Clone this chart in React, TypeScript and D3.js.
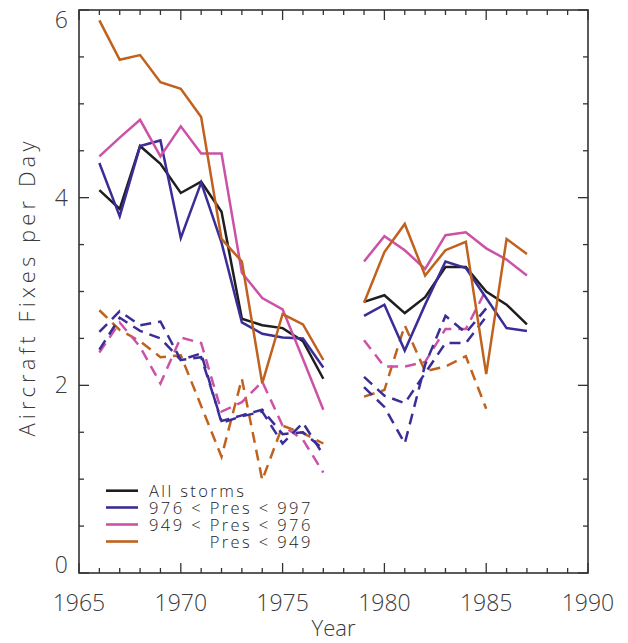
import React from "react";
import * as d3 from "d3";

// Years covered by each observing period
const earlyYears = [1966, 1967, 1968, 1969, 1970, 1971, 1972, 1973, 1974, 1975, 1976, 1977];
const lateYears = [1979, 1980, 1981, 1982, 1983, 1984, 1985, 1986, 1987];
const lateDashYears = [1979, 1980, 1981, 1982, 1983, 1984, 1985];

// Solid curves: aircraft fixes per day by storm class
const allEarly = [4.08, 3.88, 4.55, 4.36, 4.05, 4.17, 3.85, 2.71, 2.64, 2.61, 2.47, 2.07];
const allLate = [2.89, 2.96, 2.77, 2.94, 3.26, 3.26, 3.0, 2.86, 2.65];
const weakEarly = [4.37, 3.8, 4.55, 4.61, 3.57, 4.16, 3.52, 2.67, 2.55, 2.51, 2.5, 2.19];
const weakLate = [2.74, 2.86, 2.37, 2.86, 3.32, 3.25, 2.93, 2.61, 2.58];
const midEarly = [4.44, 4.64, 4.83, 4.44, 4.76, 4.47, 4.47, 3.2, 2.93, 2.81, 2.28, 1.74];
const midLate = [3.32, 3.59, 3.44, 3.24, 3.6, 3.63, 3.46, 3.34, 3.17];
const strongEarly = [5.89, 5.47, 5.52, 5.23, 5.16, 4.86, 3.56, 3.32, 2.02, 2.76, 2.65, 2.27];
const strongLate = [2.88, 3.42, 3.72, 3.17, 3.44, 3.53, 2.12, 3.56, 3.4];

// Dashed curves
const weakDashEarly = [2.57, 2.79, 2.64, 2.68, 2.27, 2.34, 1.6, 1.67, 1.72, 1.38, 1.6, 1.26];
const weakDashBEarly = [2.38, 2.72, 2.58, 2.5, 2.27, 2.3, 1.62, 1.68, 1.74, 1.48, 1.5, 1.32];
const weakDashLate = [2.09, 1.89, 1.81, 2.13, 2.45, 2.45, 2.73];
const weakDashBLate = [1.98, 1.77, 1.38, 2.22, 2.74, 2.56, 2.82];
const midDashEarly = [2.35, 2.67, 2.41, 2.02, 2.51, 2.45, 1.72, 1.82, 2.04, 1.57, 1.42, 1.07];
const midDashLate = [2.48, 2.2, 2.2, 2.25, 2.6, 2.6, 3.02];
const strongDashEarly = [2.8, 2.59, 2.47, 2.3, 2.32, 1.78, 1.24, 2.07, 0.99, 1.57, 1.49, 1.38];
const strongDashLate = [1.88, 1.95, 2.64, 2.15, 2.2, 2.31, 1.75];

// Axis ticks and legend
const xMajorTicks = [1965, 1970, 1975, 1980, 1985, 1990];
const yMajorTicks = [0, 2, 4, 6];
const legendLabels = ["All storms", "976 < Pres < 997", "949 < Pres < 976", "Pres < 949"];

const COLORS = {
  all: "#1e1e1e",
  weak: "#3a2e96",
  mid: "#cc52a8",
  strong: "#c0621e",
};

const W = 628;
const H = 643;
const left = 79;
const right = 588;
const top = 10;
const bottom = 573;

export default function App() {
  const x = d3.scaleLinear().domain([1965, 1990]).range([left, right]);
  const y = d3.scaleLinear().domain([0, 6]).range([bottom, top]);
  const line = d3
    .line<[number, number]>()
    .x((d) => x(d[0]))
    .y((d) => y(d[1]));
  const path = (years: number[], vals: number[]) =>
    line(years.map((yr, i) => [yr, vals[i]] as [number, number])) || "";

  const solid = [
    { c: COLORS.all, early: allEarly, late: allLate },
    { c: COLORS.weak, early: weakEarly, late: weakLate },
    { c: COLORS.mid, early: midEarly, late: midLate },
    { c: COLORS.strong, early: strongEarly, late: strongLate },
  ];
  const dashed = [
    { c: COLORS.strong, early: strongDashEarly, late: strongDashLate },
    { c: COLORS.mid, early: midDashEarly, late: midDashLate },
    { c: COLORS.weak, early: weakDashBEarly, late: weakDashBLate },
    { c: COLORS.weak, early: weakDashEarly, late: weakDashLate },
  ];

  const xMinor = d3.range(1965, 1991);
  const yMinor = d3.range(0, 6.01, 0.5);
  const axisColor = "#333";
  const font = "'Open Sans', 'DejaVu Sans', sans-serif";
  const textColor = "#3a3a3a";
  const legendColors = [COLORS.all, COLORS.weak, COLORS.mid, COLORS.strong];
  const legendY = [490.7, 507.5, 524.5, 541.5];

  return (
    <svg
      width={W}
      height={H}
      style={{ position: "absolute", left: 0, top: 0, background: "#fff" }}
      fontFamily={font}
      fontWeight={300}
    >
      {/* dashed series */}
      {dashed.map((s, i) => (
        <g key={"d" + i} fill="none" stroke={s.c} strokeWidth={2.5} strokeDasharray="11,7">
          <path d={path(earlyYears, s.early)} />
          <path d={path(lateDashYears, s.late)} />
        </g>
      ))}
      {/* solid series */}
      {solid.map((s, i) => (
        <g key={"s" + i} fill="none" stroke={s.c} strokeWidth={2.5} strokeLinejoin="miter">
          <path d={path(earlyYears, s.early)} />
          <path d={path(lateYears, s.late)} />
        </g>
      ))}

      {/* frame */}
      <rect
        x={left}
        y={top}
        width={right - left}
        height={bottom - top}
        fill="none"
        stroke={axisColor}
        strokeWidth={1.6}
      />
      {/* x ticks, bottom and top */}
      {xMinor.map((yr) => {
        const len = yr % 5 === 0 ? 10 : 5;
        return (
          <g key={"xt" + yr} stroke={axisColor} strokeWidth={1.3}>
            <line x1={x(yr)} x2={x(yr)} y1={bottom} y2={bottom - len} />
            <line x1={x(yr)} x2={x(yr)} y1={top} y2={top + len} />
          </g>
        );
      })}
      {/* y ticks, left and right */}
      {yMinor.map((v) => {
        const len = v % 2 === 0 ? 10 : 5;
        return (
          <g key={"yt" + v} stroke={axisColor} strokeWidth={1.3}>
            <line x1={left} x2={left + len} y1={y(v)} y2={y(v)} />
            <line x1={right} x2={right - len} y1={y(v)} y2={y(v)} />
          </g>
        );
      })}

      {/* tick labels */}
      {xMajorTicks.map((yr) => (
        <text key={"xl" + yr} x={x(yr)} y={611} textAnchor="middle" fontSize={23} fill={textColor}>
          {yr}
        </text>
      ))}
      {yMajorTicks.map((v) => {
        const yy = v === 6 ? y(v) + 10 : v === 0 ? y(v) - 8 : y(v);
        return (
          <text key={"yl" + v} x={68} y={yy + 8} textAnchor="end" fontSize={23} fill={textColor}>
            {v}
          </text>
        );
      })}

      {/* axis titles */}
      <text x={(left + right) / 2} y={636} textAnchor="middle" fontSize={22} fill={textColor}>
        Year
      </text>
      <text
        transform={`translate(35, 289) rotate(-90)`}
        textAnchor="middle"
        fontSize={22}
        fill={textColor}
        textLength={295}
        lengthAdjust="spacing"
      >
        Aircraft Fixes per Day
      </text>

      {/* legend */}
      {legendLabels.map((lab, i) => (
        <g key={"lg" + i}>
          <line
            x1={106}
            x2={138}
            y1={legendY[i]}
            y2={legendY[i]}
            stroke={legendColors[i]}
            strokeWidth={2.6}
          />
          <text
            x={149}
            y={legendY[i] + 6}
            fontSize={16.5}
            letterSpacing={2.4}
            fill="#222"
            xmlSpace="preserve"
          >
            {i === 3 ? (
              <>
                <tspan visibility="hidden">{"949 < "}</tspan>
                {lab}
              </>
            ) : (
              lab
            )}
          </text>
        </g>
      ))}
    </svg>
  );
}
